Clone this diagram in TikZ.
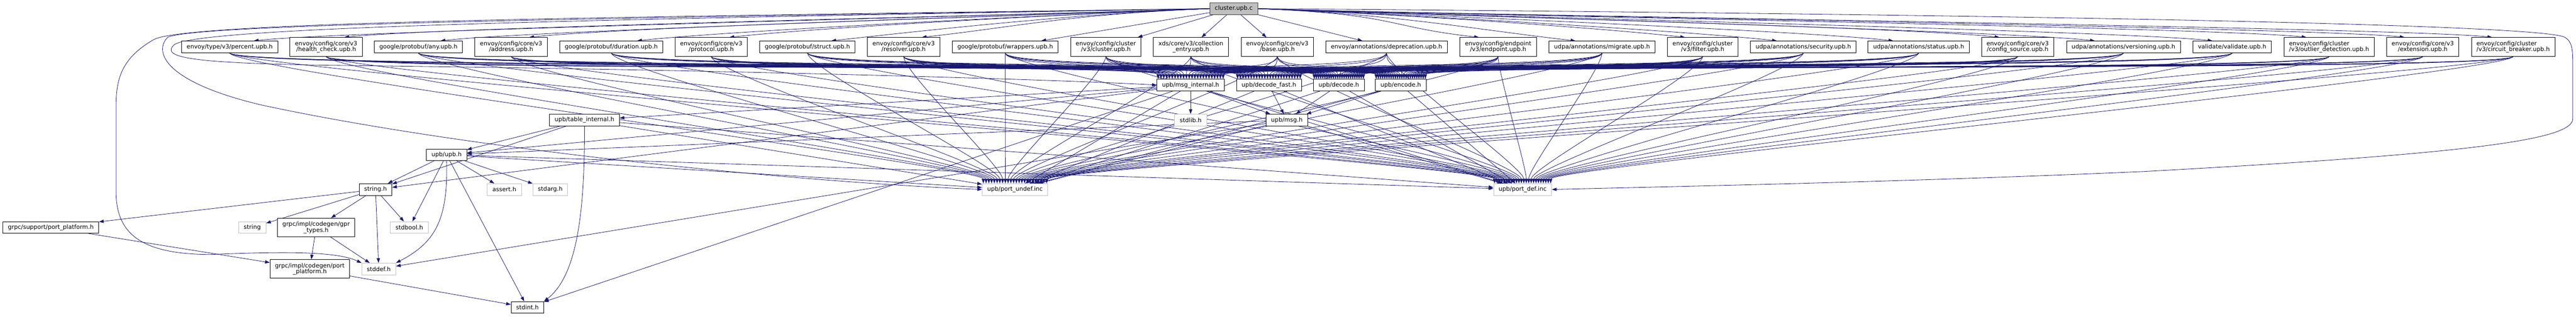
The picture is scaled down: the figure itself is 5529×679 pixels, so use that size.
\documentclass[tikz,border=0pt]{standalone}
\usepackage{fontspec}
\setmainfont{DejaVu Sans}
\usepackage{tikz}
\usetikzlibrary{arrows.meta,calc}
\usepackage{xcolor}
\definecolor{incblue}{HTML}{191970}
\definecolor{sysgray}{HTML}{BFBFBF}
\definecolor{rootline}{HTML}{404040}
\newcommand{\nodefont}{\fontsize{12.7}{12.7}\selectfont}
\pgfdeclarelayer{bg}
\pgfsetlayers{bg,main}

\begin{document}
\begin{tikzpicture}[x=1pt,y=1pt,
    hdr/.style={draw=black,fill=white,line width=0.9pt,font=\nodefont,inner xsep=11pt,inner ysep=6pt,minimum height=25pt,align=center},
    hdrtwo/.style={hdr,minimum height=40pt},
    sysbox/.style={hdr,draw=sysgray},
    rootbox/.style={hdr,draw=rootline,fill=sysgray},
    incl/.style={draw=incblue,line width=0.9pt,-{Triangle[length=10pt,width=7pt]}}]
    % source file
    \node[rootbox] (root) at (2648,-18.5) {cluster.upb.c};
    % generated headers
    \node[hdr] (percent) at (493,-100.5) {envoy/type/v3/percent.upb.h};
    \node[hdrtwo] (healthcheck) at (700,-100.5) {envoy/config/core/v3\\/health\_check.upb.h};
    \node[hdr] (anyh) at (898,-100.5) {google/protobuf/any.upb.h};
    \node[hdrtwo] (address) at (1097,-100.5) {envoy/config/core/v3\\/address.upb.h};
    \node[hdr] (duration) at (1312,-100.5) {google/protobuf/duration.upb.h};
    \node[hdrtwo] (protocol) at (1526.5,-100.5) {envoy/config/core/v3\\/protocol.upb.h};
    \node[hdr] (structh) at (1733,-100.5) {google/protobuf/struct.upb.h};
    \node[hdrtwo] (resolver) at (1939.5,-100.5) {envoy/config/core/v3\\/resolver.upb.h};
    \node[hdr] (wrappers) at (2157.5,-100.5) {google/protobuf/wrappers.upb.h};
    \node[hdrtwo] (clusterh) at (2373.5,-100.5) {envoy/config/cluster\\/v3/cluster.upb.h};
    \node[hdrtwo] (collection) at (2556,-100.5) {xds/core/v3/collection\\\_entry.upb.h};
    \node[hdrtwo] (base) at (2741.5,-100.5) {envoy/config/core/v3\\/base.upb.h};
    \node[hdr] (deprecation) at (2976,-100.5) {envoy/annotations/deprecation.upb.h};
    \node[hdrtwo] (endpoint) at (3215.5,-100.5) {envoy/config/endpoint\\/v3/endpoint.upb.h};
    \node[hdr] (migrate) at (3438.5,-100.5) {udpa/annotations/migrate.upb.h};
    \node[hdrtwo] (filter) at (3654.5,-100.5) {envoy/config/cluster\\/v3/filter.upb.h};
    \node[hdr] (security) at (3870.5,-100.5) {udpa/annotations/security.upb.h};
    \node[hdr] (status) at (4118,-100.5) {udpa/annotations/status.upb.h};
    \node[hdrtwo] (configsource) at (4330.5,-100.5) {envoy/config/core/v3\\/config\_source.upb.h};
    \node[hdr] (versioning) at (4557.5,-100.5) {udpa/annotations/versioning.upb.h};
    \node[hdr] (validate) at (4791,-100.5) {validate/validate.upb.h};
    \node[hdrtwo,align=left] (outlier) at (4999,-100.5) {envoy/config/cluster\\/v3/outlier\_detection.upb.h};
    \node[hdrtwo] (extension) at (5200,-100.5) {envoy/config/core/v3\\/extension.upb.h};
    \node[hdrtwo,align=left] (circuit) at (5394,-100.5) {envoy/config/cluster\\/v3/circuit\_breaker.upb.h};
    % upb runtime
    \node[hdr] (msginternal) at (2555.5,-182.5) {upb/msg\_internal.h};
    \node[hdr] (decodefast) at (2723.5,-182.5) {upb/decode\_fast.h};
    \node[hdr] (decode) at (2873.5,-182.5) {upb/decode.h};
    \node[hdr] (encode) at (3006.5,-182.5) {upb/encode.h};
    \node[hdr] (tableinternal) at (1254.5,-257.5) {upb/table\_internal.h};
    \node[sysbox] (stdlibh) at (2555.5,-257.5) {stdlib.h};
    \node[hdr] (msgh) at (2762,-257.5) {upb/msg.h};
    \node[hdr] (upbh) at (958.5,-332) {upb/upb.h};
    \node[hdr] (stringh) at (806,-406.5) {string.h};
    \node[sysbox] (asserth) at (1082.5,-406.5) {assert.h};
    \node[sysbox] (stdargh) at (1181,-406.5) {stdarg.h};
    \node[sysbox] (portundef) at (2178.5,-406.5) {upb/port\_undef.inc};
    \node[sysbox] (portdef) at (3268,-406.5) {upb/port\_def.inc};
    % grpc platform headers
    \node[hdr] (supportpp) at (109,-488) {grpc/support/port\_platform.h};
    \node[sysbox] (stringx) at (541.5,-488) {string};
    \node[hdrtwo] (gprtypes) at (678.5,-488) {grpc/impl/codegen/gpr\\\_types.h};
    \node[sysbox] (stdboolh) at (878.5,-488) {stdbool.h};
    \node[hdrtwo] (codegenpp) at (665,-577) {grpc/impl/codegen/port\\\_platform.h};
    \node[sysbox] (stddefh) at (813,-577) {stddef.h};
    \node[hdr] (stdinth) at (1132,-659.5) {stdint.h};

    \begin{pgfonlayer}{bg}
    \fill[white] (0,0) rectangle (5529,-679);
    % includes of cluster.upb.c
    \foreach \h in {percent,healthcheck,anyh,address,duration,protocol,structh,resolver}
        \draw[incl] (root.west) .. controls +(-300,-12) and +(200,22) .. ($(\h.north)!0.5!(\h.north east)$);
    \foreach \h in {wrappers,clusterh,collection,base,deprecation}
        \draw[incl] (root) -- (\h);
    \foreach \h in {endpoint,migrate,filter,security,status,configsource,versioning,validate,outlier,extension,circuit}
        \draw[incl] (root.east) .. controls +(300,-12) and +(-200,22) .. ($(\h.north)!0.5!(\h.north west)$);
    \draw[incl] (root.west) .. controls (1400,-40) and (450,-55) .. (375,-95)
        .. controls (340,-125) and (420,-135) .. (700,-140)
        .. controls (1600,-150) and (2300,-172) .. (msginternal.west);
    \draw[incl] (root.west) .. controls (1400,-38) and (420,-50) .. (360,-80)
        .. controls (330,-110) and (350,-175) .. (560,-225)
        .. controls (1000,-320) and (1700,-390) .. (portundef.west);
    \draw[incl] (root.west) .. controls (1400,-36) and (400,-45) .. (330,-85)
        .. controls (260,-125) and (249,-170) .. (249,-230) -- (249,-410)
        .. controls (249,-500) and (300,-545) .. (450,-546)
        .. controls (600,-540) and (720,-538) .. (stddefh.north west);
    \draw[incl] (root.east) .. controls (4200,-30) and (5450,-50) .. (5505,-80)
        .. controls (5522,-90) and (5522,-110) .. (5522,-140) -- (5522,-255)
        .. controls (5522,-300) and (5300,-330) .. (4600,-368)
        .. controls (4100,-390) and (3600,-400) .. (portdef.east);
    % every generated header pulls in the same runtime
    \foreach \h [count=\i] in {percent,healthcheck,anyh,address,duration,protocol,structh,resolver,wrappers,clusterh,collection,base,deprecation,endpoint,migrate,filter,security,status,configsource,versioning,validate,outlier,extension,circuit}{
        \pgfmathsetmacro\f{(\i-0.5)/24}
        \foreach \t in {msginternal,decodefast,decode,encode,portdef,portundef}
            \draw[incl] (\h.south) .. controls +(0,-35) and +(0,35) .. ($(\t.north west)!\f!(\t.north east)$);
    }
    % runtime internals
    \foreach \t in {stdlibh,msgh,tableinternal,upbh,stringh,stdinth,portdef,portundef}
        \draw[incl] (msginternal) -- (\t);
    \foreach \s in {decodefast,decode,encode}{
        \draw[incl] (\s) -- (msgh);
        \draw[incl] (\s) -- (portdef);
        \draw[incl] (\s) -- (portundef);
    }
    \draw[incl] (msgh) -- (stddefh);
    \draw[incl] (msgh) -- (upbh);
    \draw[incl] (msgh) -- (portdef);
    \draw[incl] (msgh) -- (portundef);
    \draw[incl] (tableinternal.south) .. controls (1255,-450) and (1240,-590) .. (stdinth.north east);
    \draw[incl] (tableinternal) -- (stringh);
    \draw[incl] (tableinternal) -- (upbh);
    \draw[incl] (tableinternal) -- (portdef);
    \draw[incl] (tableinternal) -- (portundef);
    \foreach \t in {asserth,stdargh,stdboolh,stdinth,stringh,portdef,portundef}
        \draw[incl] (upbh) -- (\t);
    \draw[incl] (upbh.south) .. controls (962,-470) and (935,-520) .. (stddefh.north east);
    % grpc side
    \foreach \t in {supportpp,stringx,gprtypes,stdboolh,stddefh}
        \draw[incl] (stringh) -- (\t);
    \draw[incl] (gprtypes) -- (codegenpp);
    \draw[incl] (gprtypes) -- (stddefh);
    \draw[incl] (supportpp) -- (codegenpp);
    \draw[incl] (codegenpp) -- (stdinth);
    \end{pgfonlayer}
\end{tikzpicture}
\end{document}
